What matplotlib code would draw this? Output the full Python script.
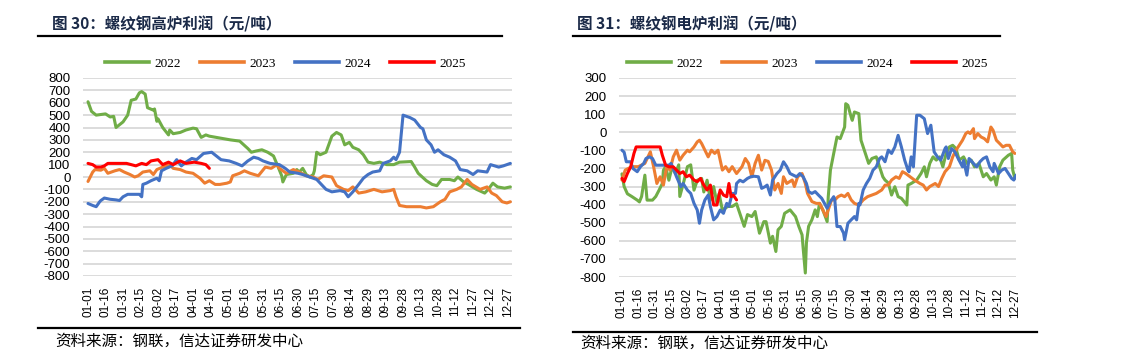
import matplotlib
matplotlib.use("Agg")
import matplotlib.pyplot as plt
from matplotlib.lines import Line2D

# ---------------- data ----------------
tick_days = [0, 15, 30, 45, 60, 75, 90, 105, 120, 135, 150, 165, 180, 195, 210,
             225, 240, 255, 270, 285, 300, 315, 330, 345, 360]
tick_labels = ["01-01", "01-16", "01-31", "02-15", "03-02", "03-17", "04-01", "04-16",
               "05-01", "05-16", "05-31", "06-15", "06-30", "07-15", "07-30", "08-14",
               "08-29", "09-13", "09-28", "10-13", "10-28", "11-12", "11-27", "12-12", "12-27"]
series_names = ["2022", "2023", "2024", "2025"]
series_colors = ["#70AD47", "#ED7D31", "#4472C4", "#FF0000"]

# Left chart: blast furnace profit
bf_2022_days = [0, 3, 7, 11, 15, 19, 22, 24, 30, 34, 37, 41, 44, 46, 49, 51, 56, 57, 59, 60, 64, 69, 70, 73, 79, 84, 90, 93, 97, 101, 104, 110, 116, 122, 130, 137, 140, 144, 149, 154, 159, 163, 166, 167, 170, 176, 179, 181, 184, 187, 190, 193, 194, 196, 199, 204, 209, 213, 217, 220, 224, 227, 232, 236, 240, 245, 250, 256, 262, 267, 277, 280, 283, 290, 295, 299, 303, 310, 314, 317, 322, 326, 333, 340, 343, 347, 351, 357, 362]
bf_2022_vals = [608, 530, 500, 505, 510, 485, 490, 400, 445, 500, 620, 630, 680, 690, 670, 560, 540, 550, 450, 470, 400, 340, 380, 350, 360, 380, 395, 390, 320, 340, 330, 320, 310, 300, 290, 230, 200, 210, 220, 200, 170, 80, 10, -40, 20, 30, 60, 40, 70, 20, 0, 20, 50, 200, 180, 200, 330, 360, 340, 260, 280, 240, 220, 180, 120, 110, 120, 100, 100, 120, 125, 80, 30, -30, -60, -70, -20, -20, -30, 0, -40, -60, -100, -130, -100, -50, -80, -90, -80]

bf_2023_days = [0, 4, 6, 11, 14, 17, 23, 27, 31, 36, 40, 43, 47, 53, 56, 59, 64, 70, 73, 79, 84, 90, 96, 100, 104, 109, 113, 119, 122, 124, 130, 134, 139, 146, 152, 157, 162, 164, 170, 176, 181, 187, 193, 197, 202, 209, 213, 219, 223, 227, 232, 238, 245, 252, 259, 262, 264, 267, 273, 285, 290, 296, 302, 306, 310, 316, 320, 325, 329, 336, 342, 346, 350, 355, 359, 362]
bf_2023_vals = [-36, 40, 60, 55, 70, 30, 50, 60, 40, 20, 0, 10, 40, 50, 20, 60, 80, 100, 70, 60, 40, 30, -10, -50, -30, -60, -60, -50, -40, 10, 30, 50, 30, 10, 80, 70, 100, 70, 30, 60, 40, 10, 0, -20, 10, 0, -70, -100, -110, -80, -130, -120, -100, -120, -110, -100, -160, -230, -240, -240, -250, -240, -200, -180, -120, -100, -80, -20, -60, -100, -80, -130, -150, -200, -210, -200]

bf_2024_days = [0, 4, 7, 10, 11, 14, 19, 24, 27, 30, 34, 44, 46, 47, 50, 54, 59, 61, 63, 67, 72, 76, 80, 84, 89, 93, 99, 106, 110, 114, 121, 127, 132, 137, 142, 146, 150, 156, 164, 169, 173, 180, 184, 190, 196, 200, 204, 209, 216, 220, 223, 227, 232, 236, 240, 244, 250, 253, 259, 262, 264, 267, 270, 276, 280, 285, 287, 290, 294, 297, 300, 305, 310, 315, 319, 325, 330, 334, 342, 345, 352, 356, 362]
bf_2024_vals = [-214, -230, -240, -200, -190, -170, -180, -185, -190, -160, -140, -140, -160, -60, -50, -30, -10, -30, 50, 70, 90, 140, 90, 120, 150, 140, 190, 200, 170, 140, 130, 110, 90, 130, 160, 150, 130, 110, 100, 70, 40, 30, 20, 0, -20, -60, -100, -120, -110, -120, -160, -120, -60, -10, 20, 40, 50, 110, 130, 160, 140, 200, 500, 480, 460, 400, 390, 300, 260, 200, 220, 180, 160, 130, 60, 50, 20, 50, 40, 100, 80, 90, 110]

bf_2025_days = [0, 4, 7, 11, 14, 17, 24, 33, 37, 41, 46, 50, 54, 60, 64, 69, 73, 79, 84, 91, 97, 101, 104]
bf_2025_vals = [110, 100, 80, 80, 90, 110, 110, 110, 100, 90, 110, 100, 130, 140, 100, 120, 100, 130, 110, 120, 110, 100, 70]

# Right chart: electric furnace profit
ef_2022_days = [0, 2, 5, 9, 14, 16, 18, 21, 23, 28, 31, 34, 37, 38, 40, 43, 46, 49, 52, 53, 57, 60, 63, 66, 69, 73, 75, 78, 81, 84, 87, 89, 92, 97, 101, 105, 112, 115, 119, 122, 126, 130, 132, 136, 138, 141, 143, 146, 149, 154, 159, 162, 165, 166, 168, 169, 171, 174, 177, 179, 181, 184, 188, 189, 191, 194, 197, 200, 204, 205, 207, 210, 211, 213, 217, 219, 223, 226, 229, 233, 236, 239, 241, 244, 247, 250, 253, 256, 261, 262, 265, 270, 274, 277, 279, 282, 285, 288, 291, 294, 297, 300, 303, 306, 309, 313, 316, 320, 323, 327, 331, 334, 338, 341, 343, 346, 349, 354, 357, 358, 360]
ef_2022_vals = [-230, -300, -340, -355, -375, -385, -355, -237, -375, -375, -355, -320, -283, -210, -190, -265, -190, -228, -180, -355, -265, -190, -180, -320, -265, -255, -330, -265, -375, -300, -390, -340, -430, -410, -410, -395, -520, -455, -466, -438, -558, -494, -494, -613, -575, -659, -539, -520, -448, -429, -466, -520, -567, -640, -778, -611, -520, -484, -429, -466, -393, -429, -494, -356, -209, -117, -26, -35, 29, 158, 149, 84, 66, 112, 103, -44, -117, -172, -145, -136, -191, -246, -264, -280, -347, -301, -356, -365, -402, -292, -283, -264, -228, -191, -246, -172, -136, -154, -136, -191, -117, -81, -72, -90, -154, -136, -172, -154, -191, -172, -246, -228, -264, -246, -292, -191, -154, -127, -117, -209, -255]

ef_2023_days = [0, 3, 9, 15, 21, 26, 29, 32, 35, 38, 41, 44, 47, 50, 53, 56, 60, 62, 66, 69, 71, 73, 76, 79, 82, 85, 88, 92, 95, 98, 101, 105, 110, 113, 116, 119, 122, 125, 128, 131, 134, 137, 140, 143, 146, 148, 151, 156, 158, 161, 165, 168, 170, 174, 178, 181, 184, 187, 189, 192, 195, 198, 201, 204, 207, 210, 213, 217, 221, 225, 229, 233, 238, 241, 244, 247, 251, 254, 257, 260, 264, 268, 273, 276, 279, 282, 287, 290, 293, 296, 300, 303, 306, 309, 312, 315, 317, 319, 322, 323, 326, 329, 332, 335, 338, 340, 343, 346, 349, 352, 355, 358, 360]
ef_2023_vals = [-264, -209, -190, -190, -172, -108, -190, -283, -246, -292, -190, -209, -136, -99, -154, -127, -99, -108, -81, -53, -44, -62, -99, -136, -99, -117, -99, -209, -190, -218, -190, -228, -190, -145, -172, -246, -172, -127, -209, -155, -161, -209, -319, -283, -338, -246, -283, -264, -300, -246, -228, -283, -338, -383, -393, -393, -429, -466, -429, -374, -374, -356, -347, -356, -338, -374, -393, -402, -374, -356, -347, -338, -319, -292, -292, -264, -246, -255, -218, -228, -246, -264, -283, -292, -319, -300, -283, -300, -255, -218, -191, -136, -99, -72, -44, -7, 2, -7, 20, -35, -7, -26, -35, -53, 29, 11, -44, -62, -81, -72, -72, -108, -117]

ef_2024_days = [0, 2, 4, 8, 10, 14, 17, 20, 22, 25, 28, 31, 37, 43, 45, 47, 50, 54, 56, 60, 63, 66, 69, 71, 73, 76, 79, 81, 84, 87, 90, 93, 96, 98, 101, 104, 105, 108, 111, 115, 118, 121, 125, 128, 131, 133, 136, 138, 142, 145, 148, 151, 154, 157, 160, 163, 166, 169, 171, 174, 177, 180, 183, 188, 191, 194, 195, 197, 200, 203, 204, 207, 210, 213, 215, 217, 218, 221, 224, 227, 230, 233, 236, 238, 241, 244, 247, 250, 253, 256, 259, 262, 263, 265, 267, 270, 273, 277, 280, 283, 286, 289, 292, 296, 297, 299, 302, 305, 308, 312, 313, 316, 318, 322, 325, 328, 331, 334, 337, 340, 341, 345, 348, 351, 354, 357, 359, 361]
ef_2024_vals = [-99, -110, -163, -163, -200, -218, -190, -172, -145, -136, -145, -182, -182, -182, -172, -200, -246, -301, -283, -320, -338, -393, -430, -503, -430, -374, -347, -410, -484, -466, -430, -448, -393, -410, -338, -338, -283, -265, -274, -255, -246, -243, -246, -310, -301, -292, -347, -265, -228, -209, -163, -190, -228, -237, -246, -228, -246, -283, -328, -338, -328, -347, -365, -420, -383, -356, -374, -521, -521, -557, -594, -503, -484, -466, -484, -393, -402, -319, -283, -255, -209, -191, -145, -136, -163, -99, -117, -81, -17, -81, -154, -209, -218, -136, -191, 94, 94, 75, -7, 39, -108, -136, -154, -90, -81, -145, -90, -108, -145, -191, -155, -237, -145, -172, -191, -163, -145, -136, -191, -218, -172, -228, -209, -200, -228, -255, -264, -237]

ef_2025_days = [0, 2, 5, 8, 11, 13, 20, 28, 35, 37, 40, 43, 47, 50, 53, 56, 59, 62, 66, 69, 72, 75, 78, 81, 84, 87, 90, 93, 96, 98, 100, 102, 105]
ef_2025_vals = [-255, -273, -228, -191, -117, -81, -81, -81, -81, -127, -182, -191, -191, -209, -228, -218, -246, -237, -264, -273, -255, -292, -319, -292, -402, -402, -319, -347, -356, -283, -356, -347, -374]

left_title = "图 30：螺纹钢高炉利润（元/吨）"
right_title = "图 31：螺纹钢电炉利润（元/吨）"
source_text = "资料来源：钢联，信达证券研发中心"

left_yticks = list(range(-800, 801, 100))
right_yticks = list(range(-800, 301, 100))

# ---------------- figure ----------------
W, H = 1137, 356
fig = plt.figure(figsize=(W / 100, H / 100), dpi=100)

def fx(px):
    return px / W

def fy(py):
    return 1 - py / H

CJK = ["Noto Sans CJK SC", "DejaVu Sans"]


def make_panel(rect, xlim, ylim, yticks, data, title, title_xy, uline, bline, src_xy, legend_xy):
    ax = fig.add_axes(rect)
    for (d, v), c in zip(data, series_colors):
        ax.plot(d, v, color=c, lw=2.2, solid_joinstyle="round", solid_capstyle="round", zorder=3)
    ax.set_xlim(*xlim)
    ax.set_ylim(*ylim)
    ax.set_yticks(yticks)
    ax.set_yticklabels([str(t) for t in yticks], family="Liberation Sans", fontsize=9.5, color="#000000")
    ax.set_xticks(tick_days)
    ax.set_xticklabels(tick_labels, rotation=90, family="Liberation Sans", fontsize=8.5, color="#000000")
    ax.tick_params(axis="both", length=0)
    ax.tick_params(axis="y", pad=9)
    ax.tick_params(axis="x", pad=8)
    ax.grid(axis="y", color="#D9D9D9", lw=1.3, zorder=0)
    ax.set_axisbelow(True)
    for s in ax.spines.values():
        s.set_visible(False)
    # title
    fig.text(fx(title_xy[0]), fy(title_xy[1]), title, family=CJK, fontsize=11.2,
             fontweight="bold", color="#1B2A48", ha="left", va="center")
    fig.add_artist(Line2D([fx(uline[0]), fx(uline[1])], [fy(uline[2])] * 2, color="#000000", lw=1.6))
    fig.add_artist(Line2D([fx(bline[0]), fx(bline[1])], [fy(bline[2])] * 2, color="#000000", lw=1.6))
    fig.text(fx(src_xy[0]), fy(src_xy[1]), source_text, family=CJK, fontsize=11.2,
             color="#000000", ha="left", va="center")
    handles = [Line2D([], [], color=c, lw=2.6) for c in series_colors]
    fig.legend(handles, series_names, loc="center", bbox_to_anchor=(fx(legend_xy[0]), fy(legend_xy[1])),
               ncol=4, frameon=False, handlelength=3.3, handletextpad=0.45, columnspacing=1.45,
               borderpad=0, prop={"family": "Liberation Serif", "size": 9.5})
    return ax


left_data = [(bf_2022_days, bf_2022_vals), (bf_2023_days, bf_2023_vals),
             (bf_2024_days, bf_2024_vals), (bf_2025_days, bf_2025_vals)]
right_data = [(ef_2022_days, ef_2022_vals), (ef_2023_days, ef_2023_vals),
              (ef_2024_days, ef_2024_vals), (ef_2025_days, ef_2025_vals)]

make_panel([fx(83), fy(276), fx(512) - fx(83), fy(78) - fy(276)], (-4.3, 363.4), (-800, 800),
           left_yticks, left_data, left_title, (52, 24), (38, 502, 36), (38, 520, 328), (55, 341),
           (285.5, 64))
make_panel([fx(619), fy(277), fx(1016) - fx(619), fy(78) - fy(277)], (-2.7, 361), (-800, 300),
           right_yticks, right_data, right_title, (577, 24), (573, 1000, 36), (573, 1037, 332), (580, 343),
           (807.5, 64))

fig.savefig("out.png", dpi=100)
